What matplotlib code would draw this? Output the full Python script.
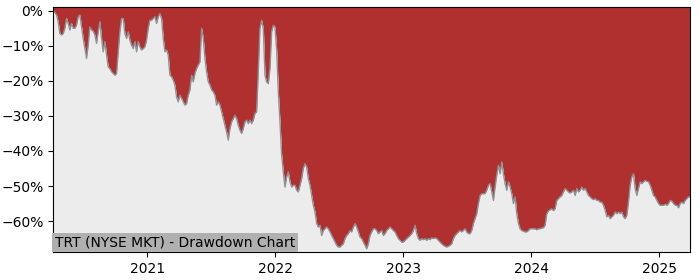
import matplotlib
matplotlib.use("Agg")
import matplotlib.pyplot as plt
import matplotlib.dates as mdates
from matplotlib.ticker import FuncFormatter
import pandas as pd

# drawdown in percent, evenly spaced from first to last date
start_date = "2020-04-07"
end_date = "2025-03-30"
drawdown = [
    0.0, -0.5, -1.2, -3.1, -6.5, -6.9, -6.5, -5.0, -2.2, -3.6,
    -5.5, -3.6, -5.0, -5.0, -4.1, -1.7, -1.2, -4.6, -7.9, -10.8,
    -13.6, -9.8, -4.6, -5.5, -5.8, -6.9, -9.3, -6.0, -3.1, -7.9,
    -11.7, -8.8, -12.7, -16.0, -16.5, -17.4, -17.9, -18.4, -17.9, -11.7,
    -6.0, -2.2, -2.2, -6.5, -7.9, -6.0, -8.4, -9.8, -10.8, -8.8,
    -11.7, -8.8, -10.3, -11.2, -10.8, -10.3, -8.4, -5.0, -2.7, -2.7,
    -2.2, -1.7, -3.6, -1.7, -0.8, -2.2, -7.9, -11.7, -11.2, -12.7,
    -18.4,
    -18.8, -19.8, -21.2, -24.6, -26.0, -24.1, -25.0, -26.0, -26.9, -26.5,
    -24.1, -22.6, -18.4, -20.3, -17.9, -16.5, -15.5, -14.6, -5.0, -7.9,
    -13.6, -17.4, -20.3, -21.2, -22.6, -23.1, -24.1, -26.9, -26.0, -26.9,
    -28.8, -30.8, -32.7, -34.6, -36.9, -33.6, -31.7, -30.8, -29.8, -30.8,
    -32.7, -34.1, -35.0, -33.6, -31.7, -31.2, -32.2, -31.2, -32.2, -31.2,
    -29.3, -28.8, -17.4, -5.0, -2.7, -5.0, -18.4, -20.3, -20.8, -16.5,
    -6.0, -4.1, -4.6,
    -11.0, -23.1, -31.7, -41.2, -46.0, -50.3, -47.4, -46.0, -48.8, -50.3,
    -49.8, -49.8, -51.2, -51.7, -49.8, -47.9, -45.0, -43.6, -44.6, -47.9,
    -49.8, -52.6, -55.5, -57.4, -60.7, -61.7, -61.2, -64.1, -62.7, -62.2,
    -61.7, -62.2, -63.1, -64.1, -65.0, -66.0, -66.9, -67.4, -67.4, -66.9,
    -66.5, -65.0, -64.1, -63.6, -62.7, -63.1, -61.7, -60.7, -61.7, -63.1,
    -64.6, -65.0, -66.0, -66.9, -67.9, -66.5, -64.1, -63.1, -62.2, -62.2,
    -62.7, -63.6, -63.1, -62.7, -64.1, -63.6, -62.7, -62.2, -61.7, -62.2,
    -62.7, -63.1, -64.1, -65.0, -65.5, -66.0, -66.0, -65.5, -65.0, -64.6,
    -64.1, -63.6, -62.7, -61.2, -63.6, -65.0, -65.5, -65.0, -65.3, -65.0,
    -65.5, -65.0, -65.3, -64.8, -65.0, -64.8, -65.0, -65.5, -66.0, -66.5,
    -66.9, -67.2, -67.4, -67.2, -66.9, -66.5, -65.0, -64.1, -63.6, -63.1,
    -62.7, -63.1, -62.7, -62.2, -63.1, -63.6, -63.6, -62.7, -60.7, -59.3,
    -57.9, -55.0, -52.7, -52.2, -52.2, -52.2, -51.2, -49.8, -49.3,
    -51.7, -54.1, -50.3, -46.9, -44.1, -46.5, -43.1, -46.5, -49.3, -51.2,
    -48.8, -50.3, -52.2, -55.0, -53.1, -57.9, -60.7, -62.2, -62.7, -62.9,
    -63.1, -63.1, -62.7, -62.2, -62.2, -62.2, -62.2, -62.5, -62.2, -62.2,
    -62.0, -61.9, -61.2, -57.9, -57.1, -56.8, -56.5, -57.0, -56.5, -54.1,
    -53.6, -53.1, -52.7, -51.7, -50.7, -51.2, -51.7, -52.0, -51.7, -51.2,
    -52.7, -50.7, -51.7, -51.2, -50.3, -51.2, -50.7, -51.7, -52.7, -53.1,
    -53.6, -53.9, -53.6, -54.1, -54.1, -54.6, -54.6, -55.5, -56.9,
    -58.8, -58.4, -59.3, -58.8, -58.4, -57.4, -57.9, -57.4, -57.9, -57.4,
    -58.8, -59.3, -58.4, -54.6, -49.8, -47.4, -46.5, -50.7, -52.7, -50.7,
    -48.8, -49.3, -48.8, -48.4, -48.7, -48.8, -49.8, -51.2, -52.7, -53.1,
    -54.1, -55.0, -55.5, -55.5, -55.5, -55.2, -55.5, -55.0, -54.1, -54.3,
    -55.0, -55.5, -55.5, -56.2, -55.0, -54.6, -55.0, -54.1, -53.6, -53.1,
    -53.1,
]
title = "TRT (NYSE MKT) - Drawdown Chart"

dates = pd.date_range(start_date, end_date, periods=len(drawdown))

y_top = 1.0
y_bottom = -68.9

fig = plt.figure(figsize=(7, 2.8), dpi=100)
ax = fig.add_axes([0.076, 0.099, 0.91, 0.875])

ax.fill_between(dates, drawdown, y_top, color="#b03030", linewidth=0)
ax.fill_between(dates, drawdown, y_bottom, color="#ececec", linewidth=0)
ax.plot(dates, drawdown, color="#8c9296", linewidth=1)

ax.set_xlim(dates[0], dates[-1])
ax.set_ylim(y_bottom, y_top)
ax.set_yticks([0, -10, -20, -30, -40, -50, -60])
ax.yaxis.set_major_formatter(FuncFormatter(lambda v, p: f"{v:.0f}%".replace("-", "\u2212")))
ax.xaxis.set_major_locator(mdates.YearLocator())
ax.xaxis.set_major_formatter(mdates.DateFormatter("%Y"))

ax.text(0.003, 0.012, title, transform=ax.transAxes, fontsize=10,
        ha="left", va="bottom",
        bbox=dict(facecolor="#b0b0b0", edgecolor="none", pad=2))

fig.savefig("out.png")
